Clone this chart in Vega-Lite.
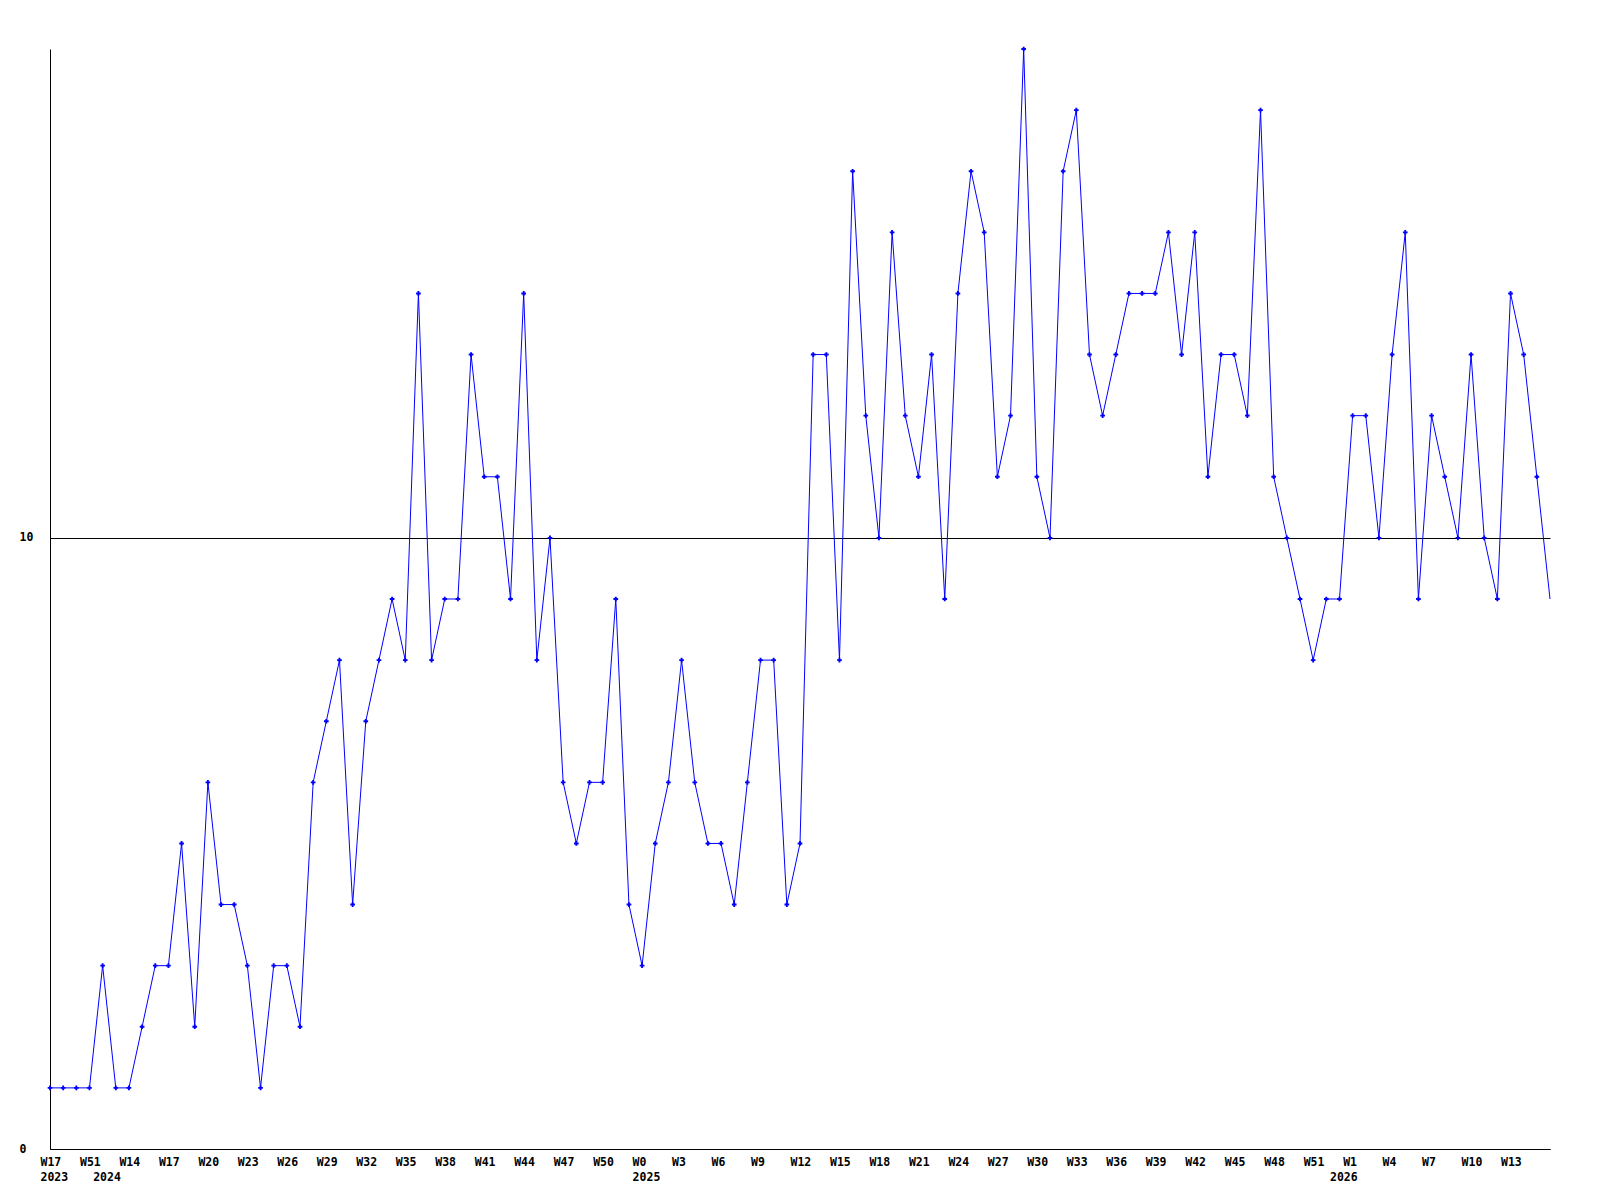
{
  "$schema": "https://vega.github.io/schema/vega-lite/v6.json",
  "width": 1500,
  "height": 1100,
  "autosize": {"type": "none"},
  "padding": {"left": 50, "top": 49, "right": 50, "bottom": 51},
  "background": "white",
  "config": {
    "view": {"stroke": null},
    "axis": {
      "labelFont": "DejaVu Sans Mono",
      "labelFontWeight": "bold",
      "labelFontSize": 11.5,
      "labelColor": "black",
      "domainColor": "black",
      "domainWidth": 1,
      "ticks": false,
      "title": null
    }
  },
  "data": {
    "values": [
      {"week": "2023-W17", "count": 1},
      {"week": "2023-W49", "count": 1},
      {"week": "2023-W50", "count": 1},
      {"week": "2023-W51", "count": 1},
      {"week": "2024-W12", "count": 3},
      {"week": "2024-W13", "count": 1},
      {"week": "2024-W14", "count": 1},
      {"week": "2024-W15", "count": 2},
      {"week": "2024-W16", "count": 3},
      {"week": "2024-W17", "count": 3},
      {"week": "2024-W18", "count": 5},
      {"week": "2024-W19", "count": 2},
      {"week": "2024-W20", "count": 6},
      {"week": "2024-W21", "count": 4},
      {"week": "2024-W22", "count": 4},
      {"week": "2024-W23", "count": 3},
      {"week": "2024-W24", "count": 1},
      {"week": "2024-W25", "count": 3},
      {"week": "2024-W26", "count": 3},
      {"week": "2024-W27", "count": 2},
      {"week": "2024-W28", "count": 6},
      {"week": "2024-W29", "count": 7},
      {"week": "2024-W30", "count": 8},
      {"week": "2024-W31", "count": 4},
      {"week": "2024-W32", "count": 7},
      {"week": "2024-W33", "count": 8},
      {"week": "2024-W34", "count": 9},
      {"week": "2024-W35", "count": 8},
      {"week": "2024-W36", "count": 14},
      {"week": "2024-W37", "count": 8},
      {"week": "2024-W38", "count": 9},
      {"week": "2024-W39", "count": 9},
      {"week": "2024-W40", "count": 13},
      {"week": "2024-W41", "count": 11},
      {"week": "2024-W42", "count": 11},
      {"week": "2024-W43", "count": 9},
      {"week": "2024-W44", "count": 14},
      {"week": "2024-W45", "count": 8},
      {"week": "2024-W46", "count": 10},
      {"week": "2024-W47", "count": 6},
      {"week": "2024-W48", "count": 5},
      {"week": "2024-W49", "count": 6},
      {"week": "2024-W50", "count": 6},
      {"week": "2024-W51", "count": 9},
      {"week": "2024-W52", "count": 4},
      {"week": "2025-W0", "count": 3},
      {"week": "2025-W1", "count": 5},
      {"week": "2025-W2", "count": 6},
      {"week": "2025-W3", "count": 8},
      {"week": "2025-W4", "count": 6},
      {"week": "2025-W5", "count": 5},
      {"week": "2025-W6", "count": 5},
      {"week": "2025-W7", "count": 4},
      {"week": "2025-W8", "count": 6},
      {"week": "2025-W9", "count": 8},
      {"week": "2025-W10", "count": 8},
      {"week": "2025-W11", "count": 4},
      {"week": "2025-W12", "count": 5},
      {"week": "2025-W13", "count": 13},
      {"week": "2025-W14", "count": 13},
      {"week": "2025-W15", "count": 8},
      {"week": "2025-W16", "count": 16},
      {"week": "2025-W17", "count": 12},
      {"week": "2025-W18", "count": 10},
      {"week": "2025-W19", "count": 15},
      {"week": "2025-W20", "count": 12},
      {"week": "2025-W21", "count": 11},
      {"week": "2025-W22", "count": 13},
      {"week": "2025-W23", "count": 9},
      {"week": "2025-W24", "count": 14},
      {"week": "2025-W25", "count": 16},
      {"week": "2025-W26", "count": 15},
      {"week": "2025-W27", "count": 11},
      {"week": "2025-W28", "count": 12},
      {"week": "2025-W29", "count": 18},
      {"week": "2025-W30", "count": 11},
      {"week": "2025-W31", "count": 10},
      {"week": "2025-W32", "count": 16},
      {"week": "2025-W33", "count": 17},
      {"week": "2025-W34", "count": 13},
      {"week": "2025-W35", "count": 12},
      {"week": "2025-W36", "count": 13},
      {"week": "2025-W37", "count": 14},
      {"week": "2025-W38", "count": 14},
      {"week": "2025-W39", "count": 14},
      {"week": "2025-W40", "count": 15},
      {"week": "2025-W41", "count": 13},
      {"week": "2025-W42", "count": 15},
      {"week": "2025-W43", "count": 11},
      {"week": "2025-W44", "count": 13},
      {"week": "2025-W45", "count": 13},
      {"week": "2025-W46", "count": 12},
      {"week": "2025-W47", "count": 17},
      {"week": "2025-W48", "count": 11},
      {"week": "2025-W49", "count": 10},
      {"week": "2025-W50", "count": 9},
      {"week": "2025-W51", "count": 8},
      {"week": "2025-W52", "count": 9},
      {"week": "2026-W0", "count": 9},
      {"week": "2026-W1", "count": 12},
      {"week": "2026-W2", "count": 12},
      {"week": "2026-W3", "count": 10},
      {"week": "2026-W4", "count": 13},
      {"week": "2026-W5", "count": 15},
      {"week": "2026-W6", "count": 9},
      {"week": "2026-W7", "count": 12},
      {"week": "2026-W8", "count": 11},
      {"week": "2026-W9", "count": 10},
      {"week": "2026-W10", "count": 13},
      {"week": "2026-W11", "count": 10},
      {"week": "2026-W12", "count": 9},
      {"week": "2026-W13", "count": 14},
      {"week": "2026-W14", "count": 13},
      {"week": "2026-W15", "count": 11},
      {"week": "2026-W16", "count": 9}
    ]
  },
  "encoding": {
    "x": {
      "field": "week",
      "type": "ordinal",
      "sort": null,
      "scale": {"type": "point", "padding": 0},
      "axis": {
        "values": ["2023-W17", "2023-W51", "2024-W12", "2024-W14", "2024-W17", "2024-W20", "2024-W23", "2024-W26", "2024-W29", "2024-W32", "2024-W35", "2024-W38", "2024-W41", "2024-W44", "2024-W47", "2024-W50", "2025-W0", "2025-W3", "2025-W6", "2025-W9", "2025-W12", "2025-W15", "2025-W18", "2025-W21", "2025-W24", "2025-W27", "2025-W30", "2025-W33", "2025-W36", "2025-W39", "2025-W42", "2025-W45", "2025-W48", "2025-W51", "2026-W0", "2026-W1", "2026-W4", "2026-W7", "2026-W10", "2026-W13"],
        "labelExpr": "indexof(['2023-W17','2025-W0'], datum.value) >= 0 ? [split(datum.value,'-')[1], split(datum.value,'-')[0]] : (indexof(['2024-W12','2026-W0'], datum.value) >= 0 ? [' ', split(datum.value,'-')[0]] : split(datum.value,'-')[1])",
        "labelAngle": 0,
        "labelAlign": "left",
        "labelOffset": -10,
        "labelBaseline": "top",
        "labelPadding": 7,
        "labelLineHeight": 15,
        "labelOverlap": false,
        "labelBound": false,
        "grid": false,
        "domain": true
      }
    },
    "y": {
      "field": "count",
      "type": "quantitative",
      "scale": {"domain": [0, 18], "nice": false, "zero": true},
      "axis": {
        "values": [0, 10],
        "grid": true,
        "gridColor": "black",
        "gridOpacity": 1,
        "gridWidth": 1,
        "labelAlign": "left",
        "labelBaseline": "middle",
        "labelPadding": 31,
        "domain": true
      }
    }
  },
  "layer": [
    {"mark": {"type": "line", "color": "#0000ff", "strokeWidth": 1}},
    {
      "transform": [{"filter": "datum.week != '2026-W16'"}],
      "mark": {"type": "point", "shape": "cross", "filled": true, "color": "#0000ff", "size": 22, "opacity": 1}
    }
  ]
}
